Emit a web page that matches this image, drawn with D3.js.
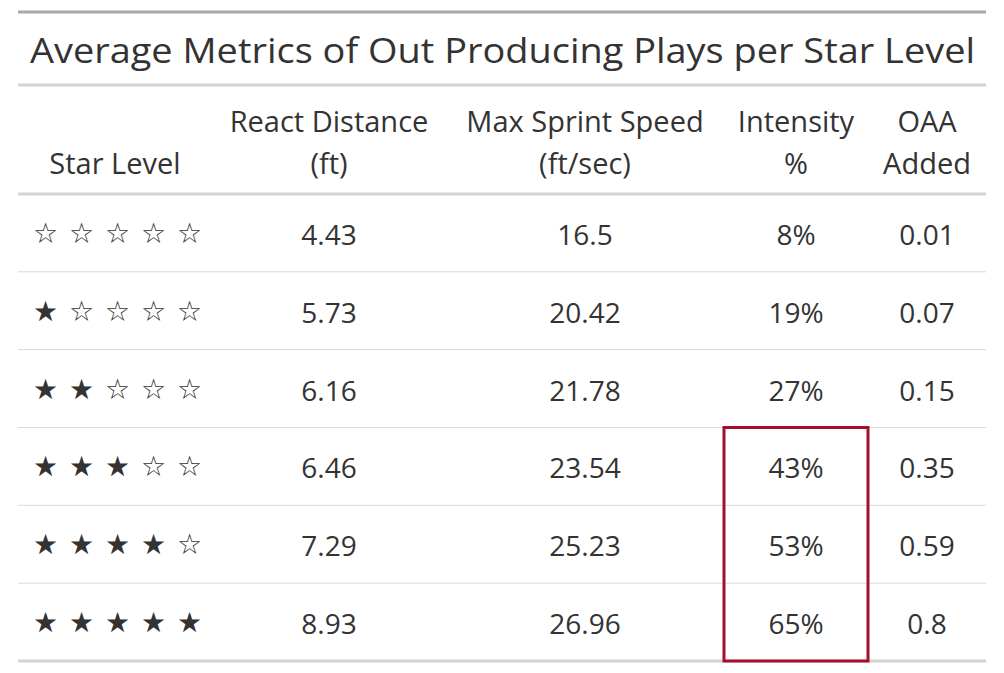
<!DOCTYPE html><html><head><meta charset="utf-8">
<script src="https://cdn.jsdelivr.net/npm/d3@7"></script>
<style>body{margin:0;background:#fff}</style></head><body>
<script>
const title = "Average Metrics of Out Producing Plays per Star Level";
const headers = [["Star Level"],["React Distance","(ft)"],["Max Sprint Speed","(ft/sec)"],["Intensity","%"],["OAA","Added"]];
const starLevels = [0,1,2,3,4,5];
const reactDistance = ["4.43","5.73","6.16","6.46","7.29","8.93"];
const sprintSpeed = ["16.5","20.42","21.78","23.54","25.23","26.96"];
const intensity = ["8%","19%","27%","43%","53%","65%"];
const oaa = ["0.01","0.07","0.15","0.35","0.59","0.8"];
const highlightRows = [3,5];

const W=1004,H=673;
const svg=d3.select("body").append("svg").attr("width",W).attr("height",H)
  .style("font-family","'Open Sans','Noto Sans',sans-serif");
const L=18,R=986;
const y=d3.scaleBand().domain(starLevels).range([194,661]);
const colX=[115,329,585,796,927];
const col="#333";
svg.append("line").attr("x1",L).attr("x2",R).attr("y1",12).attr("y2",12).attr("stroke","#a8a8a8").attr("stroke-width",3);
svg.append("text").attr("x",30).attr("y",63).attr("font-size",35).attr("fill",col)
  .attr("textLength",945).attr("lengthAdjust","spacingAndGlyphs").text(title);
svg.append("line").attr("x1",L).attr("x2",R).attr("y1",85).attr("y2",85).attr("stroke","#d3d3d3").attr("stroke-width",3);
headers.forEach((h,i)=>{
  h.forEach((t,j)=>{
    svg.append("text").attr("x",colX[i]).attr("y",h.length===1?174:132+j*42).attr("text-anchor","middle")
      .attr("font-size",29).attr("fill",col).text(t);
  });
});
svg.append("line").attr("x1",L).attr("x2",R).attr("y1",194).attr("y2",194).attr("stroke","#d3d3d3").attr("stroke-width",3);
const cols=[null,reactDistance,sprintSpeed,intensity,oaa];
starLevels.forEach((s,r)=>{
  const yc=y(s)+y.bandwidth()/2;
  const g=svg.append("g");
  for(let k=0;k<5;k++){
    g.append("text").attr("x",33+k*36).attr("y",yc+10).attr("font-size",k<s?28:28).attr("fill",col)
      .attr("font-family","'DejaVu Sans'").text(k<s?"★":"☆");
  }
  for(let c=1;c<5;c++){
    svg.append("text").attr("x",colX[c]).attr("y",yc+12).attr("text-anchor","middle").attr("font-size",28).attr("fill",col).text(cols[c][r]);
  }
  const yb=y(s)+y.bandwidth();
  svg.append("line").attr("x1",L).attr("x2",R).attr("y1",yb).attr("y2",yb)
    .attr("stroke",r===5?"#d3d3d3":"#d9d9d9").attr("stroke-width",r===5?3:1);
});
const y0=y(highlightRows[0]), y1=y(highlightRows[1])+y.bandwidth();
svg.append("rect").attr("x",724).attr("y",y0).attr("width",144).attr("height",y1-y0)
  .attr("fill","none").attr("stroke","#a50f2d").attr("stroke-width",3);
</script></body></html>
